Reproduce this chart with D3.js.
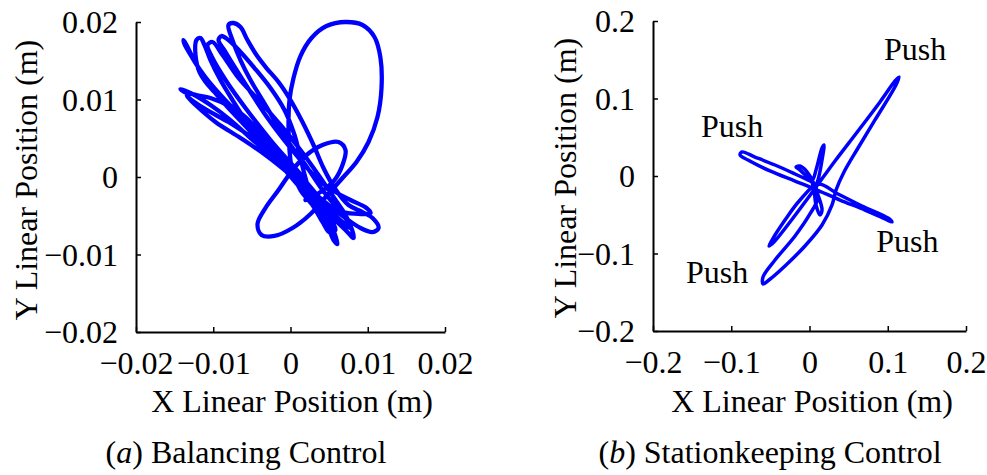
<!DOCTYPE html>
<html>
<head>
<meta charset="utf-8">
<script src="https://cdn.jsdelivr.net/npm/d3@7"></script>
<style>
  html, body { margin: 0; padding: 0; background: #fff; }
  svg { display: block; }
</style>
</head>
<body>
<svg id="figure" width="987" height="475"></svg>
<script>
// ---- Balancing control trajectory (metres) ----
const balanceX = [
  0.00104, 0.00259, 0.00414, 0.00544, 0.00609, 0.00557, 0.00466, 0.00363, 0.00130, -0.00104,
  -0.00363, -0.00583, -0.00751, -0.00907, -0.01036, -0.01114, -0.01166, -0.01217, -0.01230, -0.01178,
  -0.01010, -0.00803, -0.00570, -0.00363, -0.00130, 0.00104, 0.00324, 0.00518, 0.00712, 0.00816,
  0.00777, 0.00622, 0.00414, 0.00194, 0.00000, -0.00194, -0.00363, -0.00518, -0.00648, -0.00751,
  -0.00803, -0.00738, -0.00648, -0.00557, -0.00440, -0.00311, -0.00155, 0.00000, 0.00155, 0.00298,
  0.00427, 0.00570, 0.00751, 0.00932, 0.01062, 0.01140, 0.01062, 0.00907, 0.00712, 0.00492,
  0.00259, 0.00000, -0.00259, -0.00518, -0.00777, -0.01036, -0.01269, -0.01424, -0.01373, -0.01217,
  -0.01036, -0.00803, -0.00544, -0.00285, -0.00026, 0.00155, 0.00324, 0.00440, 0.00492, 0.00414,
  0.00285, 0.00104, -0.00130, -0.00363, -0.00583, -0.00803, -0.00984, -0.01139, -0.01269, -0.01373,
  -0.01385, -0.01333, -0.01243, -0.01113, -0.00906, -0.00647, -0.00363, -0.00078, 0.00181, 0.00453,
  0.00673, 0.00880, 0.01036, 0.00984, 0.00777, 0.00583, 0.00362, 0.00129, -0.00104, -0.00324,
  -0.00518, -0.00699, -0.00841, -0.00932, -0.00893, -0.00803, -0.00647, -0.00466, -0.00259, -0.00078,
  0.00052, 0.00129, 0.00194, 0.00285, 0.00388, 0.00518, 0.00570,
  0.00518, 0.00129, -0.00259, -0.00583, -0.00841, -0.01010, -0.01074, -0.01010, -0.00880, -0.00673,
  -0.00414, -0.00129, 0.00129, 0.00362, 0.00583, 0.00712, 0.00777,
  0.00673, 0.00362, 0.00000, -0.00324, -0.00647, -0.00971, -0.01230, -0.01346, -0.01282, -0.01087,
  -0.00803, -0.00453, -0.00129, 0.00194, 0.00453, 0.00583,
  0.00453, 0.00285, 0.00129,
  0.00026, -0.00013, -0.00026, -0.00013, 0.00039, 0.00129, 0.00272, 0.00466, 0.00712, 0.00932,
  0.01087, 0.01165, 0.01178, 0.01126, 0.01010, 0.00854, 0.00673, 0.00466, 0.00259, 0.00026,
  -0.00207, -0.00375, -0.00427, -0.00324, -0.00155, 0.00026, 0.00207, 0.00414, 0.00621, 0.00712,
  0.00673, 0.00570, 0.00388, 0.00194
];
const balanceY = [
  0.00065, -0.00168, -0.00400, -0.00658, -0.00864, -0.00813, -0.00581, -0.00361, -0.00103, 0.00155,
  0.00452, 0.00735, 0.00993, 0.01251, 0.01509, 0.01703, 0.01793, 0.01767, 0.01574, 0.01355,
  0.01122, 0.00942, 0.00761, 0.00542, 0.00323, 0.00065, -0.00232, -0.00490, -0.00684, -0.00787,
  -0.00632, -0.00426, -0.00168, 0.00155, 0.00413, 0.00710, 0.00993, 0.01251, 0.01509, 0.01767,
  0.01961, 0.01987, 0.01935, 0.01767, 0.01574, 0.01406, 0.01226, 0.00993, 0.00710, 0.00413,
  0.00116, -0.00142, -0.00361, -0.00452, -0.00529, -0.00658, -0.00710, -0.00658, -0.00529, -0.00361,
  -0.00168, 0.00052, 0.00284, 0.00503, 0.00735, 0.00929, 0.01071, 0.01135, 0.01097, 0.01058,
  0.01019, 0.00916, 0.00710, 0.00452, 0.00155, -0.00103, -0.00361, -0.00581, -0.00710, -0.00581,
  -0.00361, -0.00116, 0.00155, 0.00413, 0.00658, 0.00890, 0.01097, 0.01329, 0.01535, 0.01716,
  0.01767, 0.01677, 0.01497, 0.01303, 0.01058, 0.00787, 0.00503, 0.00219, -0.00065, -0.00361,
  -0.00452, -0.00477, -0.00465, -0.00400, -0.00297, -0.00194, -0.00039, 0.00219, 0.00503, 0.00800,
  0.01097, 0.01381, 0.01613, 0.01767, 0.01819, 0.01767, 0.01613, 0.01406, 0.01148, 0.00865,
  0.00542, 0.00245, -0.00013, -0.00297, -0.00490, -0.00645, -0.00787,
  -0.00490, 0.00026, 0.00477, 0.00890, 0.01252, 0.01535, 0.01703, 0.01742, 0.01574, 0.01277,
  0.00994, 0.00671, 0.00348, 0.00026, -0.00297, -0.00490, -0.00658,
  -0.00581, -0.00297, 0.00026, 0.00284, 0.00503, 0.00710, 0.00929, 0.01045, 0.00994, 0.00865,
  0.00710, 0.00477, 0.00219, -0.00103, -0.00426, -0.00684,
  -0.00581, -0.00361, -0.00168,
  0.00065, 0.00348, 0.00671, 0.00994, 0.01277, 0.01561, 0.01794, 0.01948, 0.02000, 0.01961,
  0.01806, 0.01535, 0.01148, 0.00774, 0.00452, 0.00194, -0.00013, -0.00245, -0.00477, -0.00658,
  -0.00761, -0.00748, -0.00606, -0.00400, -0.00168, 0.00090, 0.00284, 0.00413, 0.00452, 0.00348,
  0.00155, -0.00039, -0.00194, -0.00297
];

// ---- Stationkeeping control trajectory (metres) ----
const stationX = [
  0.0032, -0.0185, -0.0441, -0.0697, -0.0863, -0.0888, -0.0786, -0.0505, -0.0185, 0.0070,
  0.0390, 0.0709, 0.0965, 0.1054, 0.1003, 0.0671, 0.0364, 0.0109,
  -0.0121, -0.0313, -0.0479, -0.0518, -0.0454, -0.0249, -0.0019, 0.0185, 0.0326, 0.0620,
  0.0901, 0.1093, 0.1144, 0.1105, 0.0837, 0.0620, 0.0441, 0.0339, 0.0288, 0.0160,
  -0.0058, -0.0313, -0.0518, -0.0594, -0.0594, -0.0441, -0.0185, 0.0006, 0.0109, 0.0083,
  0.0109, 0.0160, 0.0185, 0.0160, 0.0083, 0.0032, -0.0121, -0.0173, -0.0121, 0.0006,
  0.0109, 0.0160, 0.0134, 0.0083, 0.0058, 0.0032
];
const stationY = [
  -0.0077, 0.0026, 0.0142, 0.0245, 0.0310, 0.0271, 0.0206, 0.0065, -0.0065, -0.0168,
  -0.0310, -0.0439, -0.0555, -0.0593, -0.0542, -0.0387, -0.0232, -0.0103,
  -0.0310, -0.0568, -0.0826, -0.0903, -0.0851, -0.0593, -0.0284, 0.0000, 0.0194, 0.0581,
  0.0955, 0.1226, 0.1277, 0.1174, 0.0723, 0.0361, 0.0052, -0.0181, -0.0374, -0.0632,
  -0.0903, -0.1161, -0.1342, -0.1393, -0.1303, -0.1084, -0.0774, -0.0490, -0.0284, -0.0129,
  -0.0052, 0.0206, 0.0400, 0.0361, 0.0077, -0.0052, 0.0077, 0.0116, 0.0129, 0.0000,
  -0.0245, -0.0439, -0.0503, -0.0374, -0.0181, -0.0077
];

// ---- Axis ticks and labels ----
const balanceTicks = [-0.02, -0.01, 0, 0.01, 0.02];
const balanceTickLabels = ["\u22120.02", "\u22120.01", "0", "0.01", "0.02"];
const stationTicks = [-0.2, -0.1, 0, 0.1, 0.2];
const stationTickLabels = ["\u22120.2", "\u22120.1", "0", "0.1", "0.2"];

// ---- Annotations ("Push" events) ----
const pushLabels = ["Push", "Push", "Push", "Push"];
const pushX = [0.135, -0.099, 0.125, -0.118];
const pushY = [0.150, 0.050, -0.098, -0.138];

const svg = d3.select("#figure");
const FONT = 32;

function styleText(sel) {
  return sel
    .attr("font-family", "Liberation Serif")
    .attr("font-size", FONT)
    .style("font-family", "'Liberation Serif'")
    .style("font-size", FONT + "px")
    .attr("fill", "#000");
}

function drawPanel(opts) {
  const x = d3.scaleLinear().domain(opts.domain).range([opts.left, opts.right]);
  const y = d3.scaleLinear().domain(opts.domain).range([opts.bottom, opts.top]);
  const g = svg.append("g");

  // trajectory
  const pts = opts.xs.map((v, i) => [v, opts.ys[i]]);
  const line = d3.line()
    .x(d => x(d[0]))
    .y(d => y(d[1]))
    .curve(d3.curveCatmullRom.alpha(0.5));
  g.append("path")
    .datum(pts)
    .attr("d", line)
    .attr("fill", "none")
    .attr("stroke", "#0000ff")
    .attr("stroke-width", opts.lineWidth)
    .attr("stroke-linejoin", "round")
    .attr("stroke-linecap", "round");

  // x axis
  const xAxis = d3.axisBottom(x)
    .tickValues(opts.ticks)
    .tickFormat((d, i) => opts.tickLabels[i])
    .tickSizeInner(-5)
    .tickSizeOuter(0)
    .tickPadding(0);
  const gx = g.append("g").attr("transform", `translate(0,${opts.bottom})`).call(xAxis);
  gx.attr("font-family", "Liberation Serif").attr("font-size", FONT);
  gx.select(".domain").attr("stroke", "#000").attr("stroke-width", 2);
  gx.selectAll(".tick line").attr("stroke", "#000").attr("stroke-width", 1.5);
  styleText(gx.selectAll(".tick text").attr("y", 42).attr("dy", null));

  // y axis
  const yAxis = d3.axisLeft(y)
    .tickValues(opts.ticks)
    .tickFormat((d, i) => opts.tickLabels[i])
    .tickSizeInner(-5)
    .tickSizeOuter(0)
    .tickPadding(0);
  const gy = g.append("g").attr("transform", `translate(${opts.left},0)`).call(yAxis);
  gy.attr("font-family", "Liberation Serif").attr("font-size", FONT);
  gy.select(".domain").attr("stroke", "#000").attr("stroke-width", 2);
  gy.selectAll(".tick line").attr("stroke", "#000").attr("stroke-width", 1.5);
  styleText(gy.selectAll(".tick text").attr("x", -18).attr("dy", "0.33em"));

  // axis titles
  styleText(g.append("text")
    .attr("x", opts.xTitleX).attr("y", 412)
    .attr("text-anchor", "middle"))
    .text("X Linear Position (m)");
  styleText(g.append("text")
    .attr("transform", `translate(${opts.yTitleX},${opts.yTitleY}) rotate(-90)`)
    .attr("text-anchor", "middle"))
    .text("Y Linear Position (m)");

  // caption
  const cap = styleText(g.append("text")
    .attr("x", opts.capX).attr("y", 463)
    .attr("text-anchor", "middle"));
  cap.append("tspan").text("(");
  cap.append("tspan").style("font-style", "italic").text(opts.capLetter);
  cap.append("tspan").text(") " + opts.capText);

  return { g, x, y };
}

drawPanel({
  left: 136, right: 445, top: 22, bottom: 332,
  domain: [-0.02, 0.02],
  xs: balanceX, ys: balanceY,
  ticks: balanceTicks, tickLabels: balanceTickLabels,
  lineWidth: 4.3,
  xTitleX: 292, yTitleX: 37, yTitleY: 180,
  capX: 246, capLetter: "a", capText: "Balancing Control"
});

const right = drawPanel({
  left: 653, right: 966, top: 21, bottom: 331,
  domain: [-0.2, 0.2],
  xs: stationX, ys: stationY,
  ticks: stationTicks, tickLabels: stationTickLabels,
  lineWidth: 3.5,
  xTitleX: 812, yTitleX: 576, yTitleY: 178,
  capX: 770, capLetter: "b", capText: "Stationkeeping Control"
});

styleText(right.g.selectAll("text.push")
  .data(pushLabels)
  .join("text")
  .attr("class", "push")
  .attr("x", (d, i) => right.x(pushX[i]))
  .attr("y", (d, i) => right.y(pushY[i]))
  .attr("text-anchor", "middle"))
  .text(d => d);
</script>
</body>
</html>
